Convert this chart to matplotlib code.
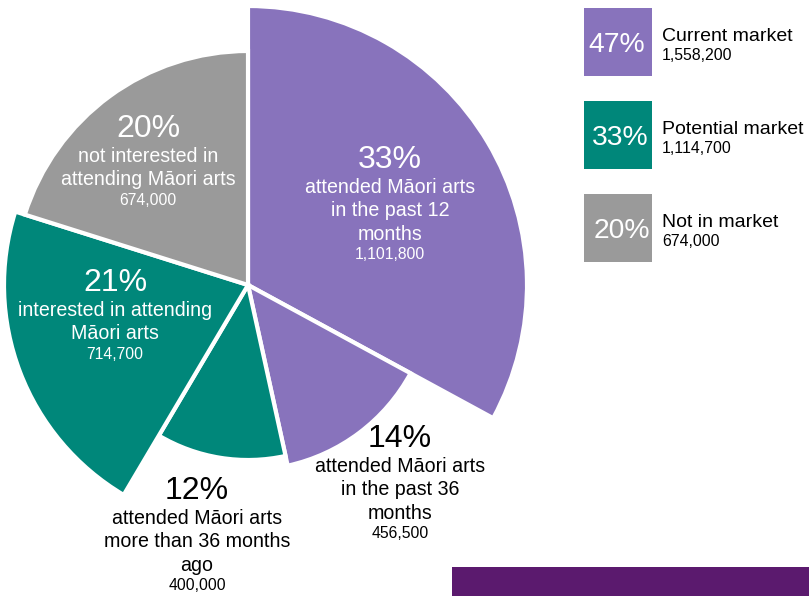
import matplotlib
matplotlib.use("Agg")
import matplotlib.pyplot as plt
from matplotlib.patches import Wedge, Rectangle

plt.rcParams['font.family'] = ['Liberation Sans', 'DejaVu Sans']

# Audience segments (people) and their shares
segments = [
    "attended Māori arts\nin the past 12\nmonths",
    "attended Māori arts\nin the past 36\nmonths",
    "attended Māori arts\nmore than 36 months\nago",
    "interested in attending\nMāori arts",
    "not interested in\nattending Māori arts",
]
counts = [1101800, 456500, 400000, 714700, 674000]
pct_labels = ["33%", "14%", "12%", "21%", "20%"]

# Summary groups
groups = ["Current market", "Potential market", "Not in market"]
group_pct = ["47%", "33%", "20%"]
group_counts = [1558200, 1114700, 674000]

PURPLE = "#8873BC"
TEAL = "#00877A"
GREY = "#9A9A9A"
DARK = "#5B1A6E"

slice_colors = [PURPLE, PURPLE, TEAL, TEAL, GREY]
slice_radius = [279, 185, 175, 244, 234]
text_colors = ["white", "black", "black", "white", "white"]
# (x, baseline of percentage) for each slice label block
label_pos = [(390, 168), (400, 447), (197, 499), (115, 291), (148, 137)]

fig = plt.figure(figsize=(8.09, 5.96), dpi=100)
ax = fig.add_axes([0, 0, 1, 1])
ax.set_xlim(0, 809)
ax.set_ylim(596, 0)
ax.axis("off")

center = (248, 285)
total = sum(counts)
start = -90.0
for cnt, col, r in zip(counts, slice_colors, slice_radius):
    sweep = 360.0 * cnt / total
    ax.add_patch(Wedge(center, r, start, start + sweep, facecolor=col,
                       edgecolor="white", linewidth=3))
    start += sweep

for seg, cnt, pct, (x, y), tc in zip(segments, counts, pct_labels, label_pos, text_colors):
    ax.text(x, y, pct, fontsize=23, color=tc, ha="center", va="baseline")
    lines = seg.split("\n")
    yy = y + 25
    for ln in lines:
        ax.text(x, yy, ln, fontsize=14.1, color=tc, ha="center", va="baseline")
        yy += 23.3
    ax.text(x, yy - 3.5, f"{cnt:,}", fontsize=11.3, color=tc, ha="center", va="baseline")

# Summary boxes
box_cols = [PURPLE, TEAL, GREY]
box_top = [8, 101, 194]
box_text_x = [617, 620, 622]
for g, gp, gc, bc, top, tx in zip(groups, group_pct, group_counts, box_cols, box_top, box_text_x):
    ax.add_patch(Rectangle((584, top), 68, 68, facecolor=bc, edgecolor="none"))
    ax.text(tx, top + 44, gp, fontsize=20.3, color="white", ha="center", va="baseline")
    ax.text(662, top + 33, g, fontsize=14, color="black", ha="left", va="baseline")
    ax.text(662, top + 52, f"{gc:,}", fontsize=11.4, color="black", ha="left", va="baseline")

# Footer band
ax.add_patch(Rectangle((452, 567), 357, 29, facecolor=DARK, edgecolor="none"))

fig.savefig("out.png", dpi=100)
